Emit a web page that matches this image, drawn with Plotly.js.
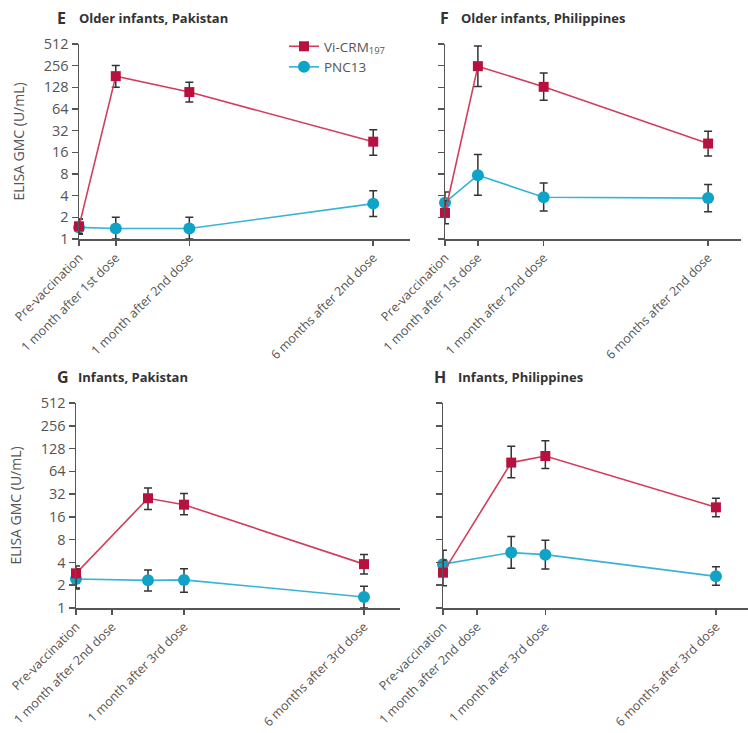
<!DOCTYPE html>
<html>
<head>
<meta charset="utf-8">
<script src="https://cdn.plot.ly/plotly-3.0.1.min.js"></script>
<style>html,body{margin:0;padding:0;background:#fff;}#chart{width:748px;height:733px;}</style>
</head>
<body>
<div id="chart"></div>
<script>
// ---------- data ----------
const tickPositions = [0, 1, 3, 8];
const tickLabelsOlder = ["Pre-vaccination", "1 month after 1st dose", "1 month after 2nd dose", "6 months after 2nd dose"];
const tickLabelsInfant = ["Pre-vaccination", "1 month after 2nd dose", "1 month after 3rd dose", "6 months after 3rd dose"];
const monthsOlder = [0, 1, 3, 8];
const monthsInfant = [0, 2, 3, 8];
const yTicks = [1, 2, 4, 8, 16, 32, 64, 128, 256, 512];

// E: Older infants, Pakistan
const E_vi = [1.5, 183, 110, 22.5];
const E_vi_hi = [1.9, 258, 151, 33];
const E_vi_lo = [1.19, 128, 80, 14.6];
const E_pcv = [1.45, 1.4, 1.4, 3.1];
const E_pcv_hi = [1.9, 2.0, 2.0, 4.7];
const E_pcv_lo = [1.16, 1.0, 1.0, 2.06];

// F: Older infants, Philippines
const F_vi = [2.3, 252, 130, 21.2];
const F_vi_hi = [3.4, 480, 202, 31.3];
const F_vi_lo = [1.63, 131, 85, 14.2];
const F_pcv = [3.2, 7.7, 3.8, 3.7];
const F_pcv_hi = [4.5, 14.9, 6.0, 5.7];
const F_pcv_lo = [2.3, 4.05, 2.44, 2.4];

// G: Infants, Pakistan
const G_vi = [2.87, 28.2, 23.2, 3.8];
const G_vi_hi = [3.6, 38.6, 32.5, 5.1];
const G_vi_lo = [1.84, 20, 17.1, 2.82];
const G_pcv = [2.42, 2.32, 2.35, 1.4];
const G_pcv_hi = [3.3, 3.18, 3.3, 1.94];
const G_pcv_lo = [1.78, 1.68, 1.61, 1.0];

// H: Infants, Philippines
const H_vi = [2.93, 83.5, 102, 21.4];
const H_vi_hi = [4.3, 137, 162, 28.2];
const H_vi_lo = [1.97, 52.8, 70, 16.1];
const H_pcv = [3.8, 5.4, 5.07, 2.62];
const H_pcv_hi = [5.8, 8.8, 7.85, 3.52];
const H_pcv_lo = [2.7, 3.35, 3.28, 2.0];

// ---------- styling ----------
const FONT = "Open Sans, sans-serif";
const viMarker = "#b8113f", viLine = "#d23d5c";
const pcvMarker = "#0fa3c8", pcvLine = "#37b4d4";
const errColor = "#333333";

function errObj(v, hi, lo) {
  return {
    type: "data", symmetric: false,
    array: hi.map((h, i) => h - v[i]),
    arrayminus: lo.map((l, i) => v[i] - l),
    color: errColor, thickness: 1.5, width: 4
  };
}

function pair(xs, vi, viHi, viLo, pcv, pcvHi, pcvLo, xa, ya, showLeg) {
  return [
    {
      x: xs, y: pcv, xaxis: xa, yaxis: ya, type: "scatter", mode: "lines+markers",
      name: "PNC13", legendrank: 2, showlegend: showLeg, cliponaxis: false,
      line: {color: pcvLine, width: 1.6},
      marker: {color: pcvMarker, symbol: "circle", size: 12},
      error_y: errObj(pcv, pcvHi, pcvLo)
    },
    {
      x: xs, y: vi, xaxis: xa, yaxis: ya, type: "scatter", mode: "lines+markers",
      name: "Vi-CRM<sub>197</sub>", legendrank: 1, showlegend: showLeg, cliponaxis: false,
      line: {color: viLine, width: 1.6},
      marker: {color: viMarker, symbol: "square", size: 10},
      error_y: errObj(vi, viHi, viLo)
    }
  ];
}

const data = [].concat(
  pair(monthsOlder, E_vi, E_vi_hi, E_vi_lo, E_pcv, E_pcv_hi, E_pcv_lo, "x", "y", true),
  pair(monthsOlder, F_vi, F_vi_hi, F_vi_lo, F_pcv, F_pcv_hi, F_pcv_lo, "x2", "y2", false),
  pair(monthsInfant, G_vi, G_vi_hi, G_vi_lo, G_pcv, G_pcv_hi, G_pcv_lo, "x3", "y3", false),
  pair(monthsInfant, H_vi, H_vi_hi, H_vi_lo, H_pcv, H_pcv_hi, H_pcv_lo, "x4", "y4", false)
);

const W = 748, H = 733;
function dx(a, b) { return [a / W, b / W]; }
function dy(top, bottom) { return [1 - bottom / H, 1 - top / H]; }

function xax(dom, labels, range, yref) {
  return {
    domain: dom, range: range, anchor: yref, showgrid: false, zeroline: false,
    showline: true, linecolor: "#555", linewidth: 1.5,
    ticks: "outside", ticklen: 5, tickwidth: 1.5, tickcolor: "#555",
    tickmode: "array", tickvals: tickPositions, ticktext: labels,
    tickangle: -45, tickfont: {family: FONT, size: 12.5, color: "#555"}
  };
}
function yax(dom, labels, xref) {
  const o = {
    domain: dom, type: "log", range: [0, Math.log10(512)], anchor: xref,
    showgrid: false, zeroline: false, showline: true, linecolor: "#555", linewidth: 1.5,
    ticks: "outside", ticklen: 6, tickwidth: 1.5, tickcolor: "#555",
    tickmode: "array", tickvals: yTicks, ticktext: yTicks.map(String),
    showticklabels: labels, tickfont: {family: FONT, size: 14.5, color: "#555"}
  };
  if (labels) o.title = {text: "ELISA GMC (U/mL)", font: {family: FONT, size: 14, color: "#555"}, standoff: 16};
  return o;
}

function panelTitle(letter, text, xL, xT, y) {
  return [
    {text: "<b>" + letter + "</b>", x: xL / W, y: 1 - y / H, xref: "paper", yref: "paper",
     xanchor: "left", yanchor: "middle", showarrow: false, font: {family: FONT, size: 16, color: "#333"}},
    {text: "<b>" + text + "</b>", x: xT / W, y: 1 - y / H, xref: "paper", yref: "paper",
     xanchor: "left", yanchor: "middle", showarrow: false, font: {family: FONT, size: 13, color: "#333"}}
  ];
}

const layout = {
  width: W, height: H, margin: {l: 0, r: 0, t: 0, b: 0},
  paper_bgcolor: "#fff", plot_bgcolor: "#fff",
  font: {family: FONT, color: "#555"},
  showlegend: true,
  legend: {x: 284 / W, y: 1 - 31 / H, xanchor: "left", yanchor: "top",
           font: {family: FONT, size: 13.5, color: "#555"}, bgcolor: "rgba(0,0,0,0)",
           itemwidth: 30, tracegroupgap: 0},
  xaxis: xax(dx(79, 410), tickLabelsOlder, [0, 9], "y"),
  yaxis: yax(dy(44, 239), true, "x"),
  xaxis2: xax(dx(445, 741), tickLabelsOlder, [0, 9], "y2"),
  yaxis2: yax(dy(44, 239), false, "x2"),
  xaxis3: xax(dx(76, 400), tickLabelsInfant, [0, 9], "y3"),
  yaxis3: yax(dy(403, 608), true, "x3"),
  xaxis4: xax(dx(443, 748), tickLabelsInfant, [0, 8.94], "y4"),
  yaxis4: yax(dy(403, 608), false, "x4"),
  annotations: [].concat(
    panelTitle("E", "Older infants, Pakistan", 55, 77, 18),
    panelTitle("F", "Older infants, Philippines", 438, 459, 18),
    panelTitle("G", "Infants, Pakistan", 55, 76, 377),
    panelTitle("H", "Infants, Philippines", 432, 456, 377)
  )
};

Plotly.newPlot("chart", data, layout, {displayModeBar: false, staticPlot: true});
</script>
</body>
</html>
